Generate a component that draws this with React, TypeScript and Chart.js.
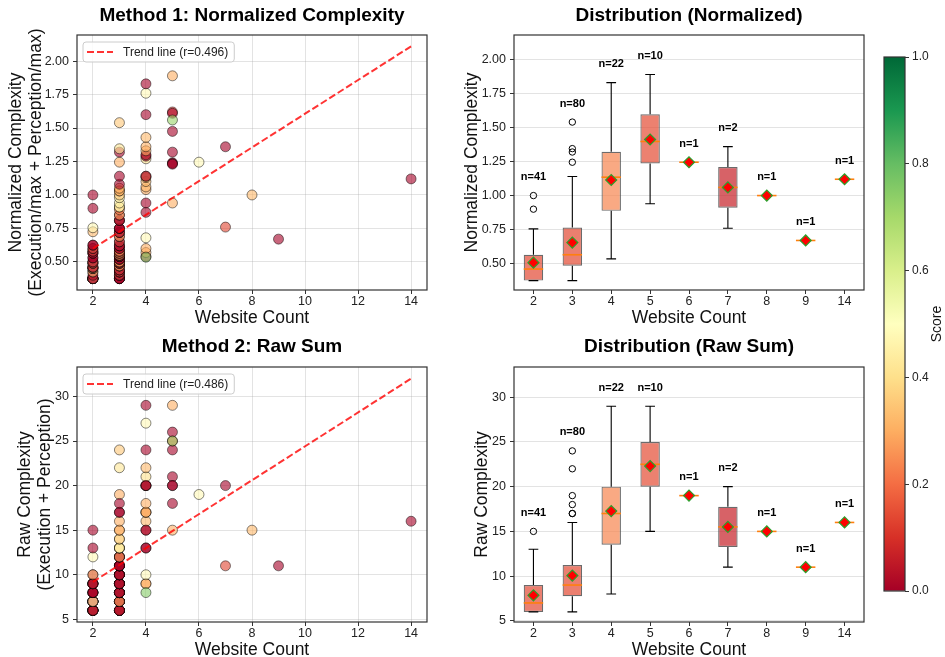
import React, { useEffect, useRef } from 'react';
import { Chart, registerables } from 'chart.js';

Chart.register(...registerables);

const FONT = '"Liberation Sans", Arial, Helvetica, sans-serif';

// ---------------- DATA ----------------
const websiteCounts = [2, 3, 4, 5, 6, 7, 8, 9, 14];

const normalizedByCount: number[][] = [
  [0.375, 0.375, 0.375, 0.375, 0.375, 0.375, 0.375, 0.375, 0.375, 0.375, 0.375, 0.40, 0.425, 0.425, 0.45, 0.45, 0.45, 0.46, 0.46, 0.46, 0.46, 0.49, 0.49, 0.49, 0.50, 0.50, 0.53, 0.53, 0.565, 0.565, 0.565, 0.58, 0.58, 0.60, 0.60, 0.625, 0.625, 0.725, 0.755, 0.90, 1.00],
  [0.375, 0.375, 0.375, 0.375, 0.375, 0.375, 0.40, 0.40, 0.40, 0.425, 0.425, 0.425, 0.425, 0.44, 0.44, 0.44, 0.47, 0.47, 0.47, 0.47, 0.49, 0.49, 0.49, 0.49, 0.50, 0.50, 0.50, 0.52, 0.52, 0.52, 0.52, 0.54, 0.54, 0.54, 0.54, 0.55, 0.55, 0.55, 0.55, 0.565, 0.565, 0.565, 0.58, 0.58, 0.58, 0.60, 0.60, 0.62, 0.62, 0.62, 0.65, 0.65, 0.69, 0.69, 0.72, 0.72, 0.72, 0.75, 0.75, 0.75, 0.81, 0.81, 0.81, 0.85, 0.85, 0.89, 0.91, 0.91, 0.94, 0.98, 1.00, 1.03, 1.03, 1.05, 1.08, 1.14, 1.245, 1.32, 1.345, 1.54],
  [0.54, 0.57, 0.60, 0.68, 0.87, 0.94, 1.04, 1.06, 1.10, 1.13, 1.14, 1.14, 1.27, 1.29, 1.30, 1.33, 1.36, 1.43, 1.60, 1.76, 1.83, 0.535],
  [1.89, 0.94, 1.62, 1.61, 1.475, 1.32, 1.24, 1.235, 1.23, 1.56],
  [1.245],
  [1.36, 0.76],
  [1.00],
  [0.67],
  [1.12],
];

const rawByCount: number[][] = [
  [6, 6, 6, 6, 6, 6, 6, 6, 6, 6, 6, 6, 7, 7, 7, 7, 7, 7, 7, 7, 7, 7, 8, 8, 8, 8, 8, 8, 9, 9, 9, 9, 9, 9, 9, 9, 10, 10, 12, 13, 15],
  [6, 6, 6, 6, 6, 6, 6, 6, 6, 6, 7, 7, 7, 7, 7, 7, 7, 7, 7, 7, 8, 8, 8, 8, 8, 8, 8, 8, 8, 8, 8, 9, 9, 9, 9, 9, 9, 9, 9, 9, 9, 9, 9, 9, 10, 10, 10, 10, 10, 10, 10, 10, 10, 11, 11, 11, 11, 11, 11, 11, 12, 12, 12, 12, 12, 13, 13, 13, 13, 14, 14, 15, 15, 16, 17, 17, 19, 18, 22, 24],
  [15, 9, 9, 10, 13, 13, 20, 17, 16, 20, 17, 20, 21, 20, 15, 17, 18, 22, 24, 27, 29, 8],
  [29, 15, 25, 26, 24, 21, 20, 20, 18, 25],
  [19],
  [20, 11],
  [15],
  [11],
  [16],
];

const scoreByCount: number[][] = [
  [0, 0, 0.03, 0.35, 0, 0.3, 0, 0, 0.03, 0.4, 0, 0.03, 0, 0.35, 0.3, 0, 0.4, 0.03, 0.42, 0.25, 0, 0.45, 0.35, 0.03, 0.32, 0, 0, 0, 0.3, 0, 0, 0.3, 0, 0.32, 0.03, 0, 0, 0.32, 0.48, 0, 0],
  [0, 0, 0.3, 0.03, 0, 0, 0, 0.3, 0, 0.03, 0.3, 0.3, 0, 0, 0.3, 0, 0.32, 0, 0, 0.3, 0.32, 0, 0.3, 0, 0.28, 0, 0.3, 0, 0.3, 0, 0, 0, 0, 0.3, 0, 0, 0, 0, 0.32, 0, 0, 0.3, 0, 0, 0.3, 0, 0.03, 0.3, 0, 0, 0.3, 0, 0, 0.3, 0, 0.3, 0, 0.03, 0, 0, 0.3, 0.03, 0, 0, 0.3, 0.22, 0.42, 0.45, 0.45, 0.45, 0.35, 0.32, 0.3, 0.3, 0, 0, 0.3, 0, 0.42, 0.35],
  [0, 0.3, 0.3, 0.48, 0, 0, 0.3, 0.32, 0.32, 0.3, 0.28, 0, 0.4, 0, 0.03, 0.3, 0.3, 0.32, 0, 0.48, 0, 0.75],
  [0.3, 0.3, 0.12, 0, 0, 0, 0, 0, 0, 0.72],
  [0.48],
  [0, 0.13],
  [0.32],
  [0],
  [0],
];

const scatterXTicks = [2, 4, 6, 8, 10, 12, 14];
const normalizedTicks = [0.5, 0.75, 1.0, 1.25, 1.5, 1.75, 2.0];
const rawTicks = [5, 10, 15, 20, 25, 30];
const colorbarTicks = [0, 0.2, 0.4, 0.6, 0.8, 1.0];

const trendNormalized = [{ x: 2, y: 0.60 }, { x: 14, y: 2.11 }];
const trendRaw = [{ x: 2, y: 9.2 }, { x: 14, y: 32.0 }];
const rNormalized = 0.496;
const rRaw = 0.486;

// ---------------- STYLE ----------------
const RDYLGN = [
  [165, 0, 38], [215, 48, 39], [244, 109, 67], [253, 174, 97], [254, 224, 139],
  [255, 255, 191], [217, 239, 139], [166, 217, 106], [102, 189, 99], [26, 152, 80], [0, 104, 55],
];
const GRID = 'rgba(176,176,176,0.35)';
const TICK_COLOR = '#333';

function cmap(t: number, a = 1) {
  const v = Math.max(0, Math.min(1, t)) * 10;
  const i = Math.min(9, Math.floor(v));
  const f = v - i;
  const c0 = RDYLGN[i];
  const c1 = RDYLGN[i + 1];
  const c = c0.map((x, k) => Math.round(x + (c1[k] - x) * f));
  return `rgba(${c[0]},${c[1]},${c[2]},${a})`;
}

const mean = (a: number[]) => a.reduce((s, v) => s + v, 0) / a.length;

function boxStats(values: number[]) {
  const s = [...values].sort((a, b) => a - b);
  const q = (p: number) => {
    const pos = (s.length - 1) * p;
    const lo = Math.floor(pos);
    const hi = Math.ceil(pos);
    return s[lo] + (s[hi] - s[lo]) * (pos - lo);
  };
  const q1 = q(0.25), med = q(0.5), q3 = q(0.75);
  const iqr = q3 - q1;
  const loF = q1 - 1.5 * iqr - 1e-9, hiF = q3 + 1.5 * iqr + 1e-9;
  const inside = s.filter((v) => v >= loF && v <= hiF);
  return {
    q1, med, q3,
    wLo: inside[0], wHi: inside[inside.length - 1],
    outliers: s.filter((v) => v < loF || v > hiF),
    mean: mean(s), max: s[s.length - 1], n: s.length,
  };
}

// ---------------- PLUGINS ----------------
const framePlugin = {
  id: 'frame',
  afterDraw(chart: any) {
    const { ctx, chartArea: a } = chart;
    ctx.save();
    ctx.strokeStyle = '#333';
    ctx.lineWidth = 1.2;
    ctx.strokeRect(a.left, a.top, a.right - a.left, a.bottom - a.top);
    ctx.restore();
  },
};

function makeLegendPlugin(text: string) {
  return {
    id: 'trendLegend',
    afterDraw(chart: any) {
      const { ctx, chartArea: a } = chart;
      ctx.save();
      ctx.font = `12px ${FONT}`;
      const tw = ctx.measureText(text).width;
      const x0 = a.left + 6, y0 = a.top + 7, h = 20;
      const w = 4 + 26 + 10 + tw + 6;
      ctx.beginPath();
      ctx.roundRect(x0, y0, w, h, 3);
      ctx.fillStyle = 'rgba(255,255,255,0.85)';
      ctx.fill();
      ctx.strokeStyle = '#cccccc';
      ctx.lineWidth = 1;
      ctx.stroke();
      const cy = y0 + h / 2;
      ctx.beginPath();
      ctx.setLineDash([7, 3]);
      ctx.moveTo(x0 + 4, cy);
      ctx.lineTo(x0 + 30, cy);
      ctx.strokeStyle = 'rgba(255,0,0,0.8)';
      ctx.lineWidth = 2;
      ctx.stroke();
      ctx.setLineDash([]);
      ctx.fillStyle = '#222';
      ctx.textAlign = 'left';
      ctx.textBaseline = 'middle';
      ctx.fillText(text, x0 + 40, cy + 0.5);
      ctx.restore();
    },
  };
}

function makeBoxPlugin(stats: ReturnType<typeof boxStats>[]) {
  return {
    id: 'boxWhisker',
    afterDatasetDraw(chart: any, args: any) {
      if (args.index !== 0) return;
      const { ctx } = chart;
      const xs = chart.scales.x, ys = chart.scales.y;
      const meta = chart.getDatasetMeta(0);
      stats.forEach((s, i) => {
        const x = xs.getPixelForValue(i);
        const bw = (meta.data[i] as any).width || 19;
        const half = bw / 2, cap = bw / 4;
        const py = (v: number) => ys.getPixelForValue(v);
        ctx.save();
        ctx.strokeStyle = '#000';
        ctx.lineWidth = 1.1;
        ctx.beginPath();
        ctx.moveTo(x, py(s.q3)); ctx.lineTo(x, py(s.wHi));
        ctx.moveTo(x, py(s.q1)); ctx.lineTo(x, py(s.wLo));
        ctx.moveTo(x - cap, py(s.wHi)); ctx.lineTo(x + cap, py(s.wHi));
        ctx.moveTo(x - cap, py(s.wLo)); ctx.lineTo(x + cap, py(s.wLo));
        ctx.stroke();
        ctx.strokeStyle = '#ff7f0e';
        ctx.lineWidth = 1.6;
        ctx.beginPath();
        ctx.moveTo(x - half, py(s.med)); ctx.lineTo(x + half, py(s.med));
        ctx.stroke();
        ctx.restore();
      });
    },
    afterDatasetsDraw(chart: any) {
      const { ctx } = chart;
      const xs = chart.scales.x, ys = chart.scales.y;
      ctx.save();
      ctx.font = `bold 11px ${FONT}`;
      ctx.fillStyle = '#000';
      ctx.textAlign = 'center';
      ctx.textBaseline = 'middle';
      stats.forEach((s, i) => {
        ctx.fillText(`n=${s.n}`, xs.getPixelForValue(i), ys.getPixelForValue(s.max) - 18.5);
      });
      ctx.restore();
    },
  };
}

const scoreLabelPlugin = {
  id: 'scoreLabel',
  afterDraw(chart: any) {
    const { ctx, chartArea: a } = chart;
    ctx.save();
    ctx.translate(67, (a.top + a.bottom) / 2);
    ctx.rotate(-Math.PI / 2);
    ctx.font = `14px ${FONT}`;
    ctx.fillStyle = '#111';
    ctx.textAlign = 'center';
    ctx.textBaseline = 'middle';
    ctx.fillText('Score', 0, 0);
    ctx.restore();
  },
};

// ---------------- CONFIG BUILDERS ----------------
const tickFont = { family: FONT, size: 12.5 };
const labelFont = { family: FONT, size: 17.5, lineHeight: '20px' };

function titleOpts(text: string, pad: { top: number; bottom: number }) {
  return {
    display: true, text, fullSize: false, color: '#000',
    font: { family: FONT, size: 19, weight: 'bold', lineHeight: '20px' },
    padding: pad,
  };
}

function yAxis(min: number, max: number, ticks: number[], digits: number, title: string[], titlePadTop: number, width: number) {
  return {
    type: 'linear', min, max,
    afterBuildTicks: (s: any) => { s.ticks = ticks.map((v) => ({ value: v })); },
    ticks: { font: tickFont, color: '#222', padding: 4, callback: (v: any) => Number(v).toFixed(digits) },
    grid: { color: GRID, lineWidth: 1, tickLength: 4, tickColor: TICK_COLOR },
    border: { display: false },
    title: { display: true, text: title, font: labelFont, color: '#111', padding: { top: titlePadTop, bottom: 0 } },
    afterFit: (s: any) => { s.width = width; },
  };
}

const xTitle = { display: true, text: 'Website Count', font: labelFont, color: '#111', padding: { top: 0, bottom: 2 } };

function scatterConfig(p: any) {
  const points: any[] = [];
  const colors: string[] = [];
  websiteCounts.forEach((c, g) => p.values[g].forEach((v: number, i: number) => {
    points.push({ x: c, y: v });
    colors.push(cmap(scoreByCount[g][i], 0.6));
  }));
  return {
    type: 'scatter',
    data: {
      datasets: [
        { type: 'line', data: p.trend, borderColor: 'rgba(255,0,0,0.8)', borderWidth: 2, borderDash: [7, 3], pointRadius: 0, fill: false, order: 0 },
        { type: 'scatter', data: points, pointBackgroundColor: colors, pointBorderColor: 'rgba(0,0,0,0.6)', pointBorderWidth: 0.8, pointRadius: 5, pointHoverRadius: 5, order: 1 },
      ],
    },
    options: {
      responsive: false, animation: false, devicePixelRatio: 1,
      layout: { padding: { left: 0, right: 13, top: 0, bottom: 0 } },
      scales: {
        x: {
          type: 'linear', min: 1.4, max: 14.6,
          afterBuildTicks: (s: any) => { s.ticks = scatterXTicks.map((v) => ({ value: v })); },
          ticks: { font: tickFont, color: '#222', padding: 0, maxRotation: 0, autoSkip: false, callback: (v: any) => String(v) },
          grid: { color: GRID, lineWidth: 1, tickLength: 4, tickColor: TICK_COLOR },
          border: { display: false },
          title: xTitle,
          afterFit: (s: any) => { s.height = 40; },
        },
        y: yAxis(p.yMin, p.yMax, p.yTicks, p.digits, p.yTitle, p.yTitlePad, 77),
      },
      plugins: {
        legend: { display: false }, tooltip: { enabled: false },
        title: titleOpts(p.title, p.titlePad),
      },
    },
    plugins: [framePlugin, makeLegendPlugin(p.legend)],
  };
}

function boxConfig(p: any) {
  const stats = p.values.map((v: number[]) => boxStats(v));
  const labels = websiteCounts.map(String);
  const boxColors = scoreByCount.map((s) => cmap(mean(s), 0.7));
  const outliers: any[] = [];
  stats.forEach((s: any, g: number) => s.outliers.forEach((v: number) => outliers.push({ x: labels[g], y: v })));
  return {
    type: 'bar',
    data: {
      labels,
      datasets: [
        { type: 'bar', data: stats.map((s: any) => [s.q1, s.q3]), backgroundColor: boxColors, borderColor: 'rgba(70,70,70,0.8)', borderWidth: 1.2, borderSkipped: false, barPercentage: 0.5, categoryPercentage: 1, grouped: false, order: 3 },
        { type: 'line', data: outliers, showLine: false, pointRadius: 3.2, pointHoverRadius: 3.2, pointBackgroundColor: 'rgba(0,0,0,0)', pointBorderColor: '#000', pointBorderWidth: 1, order: 2 },
        { type: 'line', data: stats.map((s: any) => s.mean), showLine: false, pointStyle: 'rectRot', pointRadius: 5.5, pointHoverRadius: 5.5, pointBackgroundColor: '#ff0000', pointBorderColor: '#2ca02c', pointBorderWidth: 1.2, order: 1 },
      ],
    },
    options: {
      responsive: false, animation: false, devicePixelRatio: 1,
      layout: { padding: { left: 0, right: 11, top: 0, bottom: 0 } },
      scales: {
        x: {
          type: 'category', offset: true,
          ticks: { font: tickFont, color: '#222', padding: 0, maxRotation: 0, autoSkip: false },
          grid: { offset: false, color: 'rgba(0,0,0,0)', tickLength: 4, tickColor: TICK_COLOR },
          border: { display: false },
          title: xTitle,
          afterFit: (s: any) => { s.height = 40; },
        },
        y: yAxis(p.yMin, p.yMax, p.yTicks, p.digits, p.yTitle, p.yTitlePad, 74),
      },
      plugins: {
        legend: { display: false }, tooltip: { enabled: false },
        title: titleOpts(p.title, p.titlePad),
      },
    },
    plugins: [framePlugin, makeBoxPlugin(stats)],
  };
}

function colorbarConfig() {
  return {
    type: 'bar',
    data: {
      labels: [''],
      datasets: [{
        data: [[0, 1]],
        backgroundColor: (c: any) => {
          const area = c.chart.chartArea;
          if (!area) return cmap(0.5);
          const g = c.chart.ctx.createLinearGradient(0, area.bottom, 0, area.top);
          RDYLGN.forEach((_, i) => g.addColorStop(i / 10, cmap(i / 10)));
          return g;
        },
        borderWidth: 0, barPercentage: 1, categoryPercentage: 1,
      }],
    },
    options: {
      responsive: false, animation: false, devicePixelRatio: 1,
      layout: { padding: { left: 14, right: 0, top: 57, bottom: 66 } },
      scales: {
        x: { display: false },
        y: {
          position: 'right', min: 0, max: 1,
          afterBuildTicks: (s: any) => { s.ticks = colorbarTicks.map((v) => ({ value: v })); },
          ticks: { font: { family: FONT, size: 12 }, color: '#222', padding: 3, callback: (v: any) => Number(v).toFixed(1) },
          grid: { drawOnChartArea: false, tickLength: 4, tickColor: TICK_COLOR },
          border: { display: false },
          afterFit: (s: any) => { s.width = 40; },
        },
      },
      plugins: { legend: { display: false }, tooltip: { enabled: false } },
    },
    plugins: [framePlugin, scoreLabelPlugin],
  };
}

// ---------------- COMPONENTS ----------------
function ChartCanvas({ make, left, top, width, height }: { make: () => any; left: number; top: number; width: number; height: number }) {
  const ref = useRef<HTMLCanvasElement>(null);
  useEffect(() => {
    if (!ref.current) return;
    const chart = new Chart(ref.current, make());
    return () => chart.destroy();
  }, []);
  return <canvas ref={ref} width={width} height={height} style={{ position: 'absolute', left, top, width, height }} />;
}

export default function App() {
  return (
    <div style={{ position: 'absolute', left: 0, top: 0, width: 945, height: 657, overflow: 'hidden', background: '#fff' }}>
      <ChartCanvas left={0} top={0} width={440} height={330} make={() => scatterConfig({
        values: normalizedByCount, trend: trendNormalized, yMin: 0.29, yMax: 2.195, yTicks: normalizedTicks, digits: 2,
        yTitle: ['Normalized Complexity', '(Execution/max + Perception/max)'], yTitlePad: 6,
        title: 'Method 1: Normalized Complexity', titlePad: { top: 6, bottom: 9 }, legend: `Trend line (r=${rNormalized.toFixed(3)})`,
      })} />
      <ChartCanvas left={440} top={0} width={435} height={330} make={() => boxConfig({
        values: normalizedByCount, yMin: 0.306, yMax: 2.18, yTicks: normalizedTicks, digits: 2,
        yTitle: ['Normalized Complexity'], yTitlePad: 22.5,
        title: 'Distribution (Normalized)', titlePad: { top: 6, bottom: 9 },
      })} />
      <ChartCanvas left={0} top={326} width={440} height={336} make={() => scatterConfig({
        values: rawByCount, trend: trendRaw, yMin: 4.7, yMax: 33.3, yTicks: rawTicks, digits: 0,
        yTitle: ['Raw Complexity', '(Execution + Perception)'], yTitlePad: 15,
        title: 'Method 2: Raw Sum', titlePad: { top: 11, bottom: 10 }, legend: `Trend line (r=${rRaw.toFixed(3)})`,
      })} />
      <ChartCanvas left={440} top={326} width={435} height={336} make={() => boxConfig({
        values: rawByCount, yMin: 4.87, yMax: 33.38, yTicks: rawTicks, digits: 0,
        yTitle: ['Raw Complexity'], yTitlePad: 32.5,
        title: 'Distribution (Raw Sum)', titlePad: { top: 11, bottom: 10 },
      })} />
      <ChartCanvas left={870} top={0} width={75} height={657} make={colorbarConfig} />
    </div>
  );
}
